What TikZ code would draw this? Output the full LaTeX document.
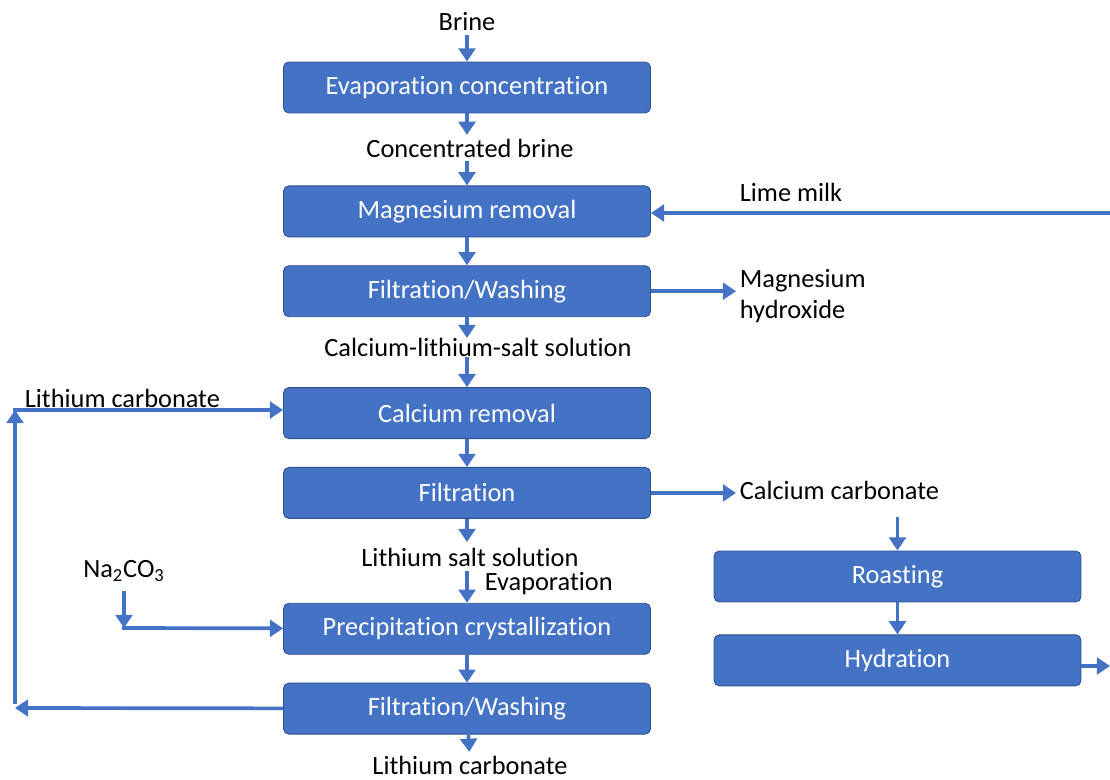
\documentclass[tikz,border=0pt]{standalone}
\usepackage{fontspec}
\setmainfont{Carlito}[Ligatures=NoCommon]
\usepackage{tikz}
\usetikzlibrary{arrows.meta, positioning}
\definecolor{boxblue}{HTML}{4472C4}
\definecolor{boxline}{HTML}{2F528F}

\begin{document}
\begin{tikzpicture}[x=0.02cm, y=-0.02cm, node distance=0.56cm,
        font=\fontsize{15}{18}\selectfont,
        block/.style={draw=boxline, line width=0.5pt, fill=boxblue, text=white, minimum width=7.34cm, minimum height=1.02cm, align=center, rounded corners=3pt},
        label/.style={text=black, inner sep=2pt, align=left},
        arrow/.style={-{Triangle[length=7.5pt, width=9.5pt]}, draw=boxblue, line width=2.1pt}]

        \useasboundingbox (0,0) rectangle (1110,780);

        % Nodes
        \node [block] at (467,87.5) (evap) {Evaporation concentration};
        \node [block, below=1.44cm of evap] (mag) {Magnesium removal};
        \node [block, below=of mag] (filt1) {Filtration/Washing};
        \node [block, below=1.4cm of filt1] (ca) {Calcium removal};
        \node [block, below=of ca] (filt2) {Filtration};
        \node [block, below=1.68cm of filt2] (prec) {Precipitation crystallization};
        \node [block, below=of prec] (filt3) {Filtration/Washing};
        \node [block] at (897.5,576.5) (roast) {Roasting};
        \node [block, below=0.64cm of roast] (hyd) {Hydration};

        % Labels
        \node [label] at (467,22) (brine) {Brine};
        \node [label] at (470,148) (cbrine) {Concentrated brine};
        \node [label, anchor=west] at (736,192) (lime) {Lime milk};
        \node [label, anchor=west] at (736,296) (mghyd) {Magnesium\\hydroxide};
        \node [label] at (478,347) (clsol) {Calcium-lithium-salt solution};
        \node [label, anchor=west] at (21,398) (licarb1) {Lithium carbonate};
        \node [label, anchor=west] at (736,490) (cacarb) {Calcium carbonate};
        \node [label] at (470,557) (lisol) {Lithium salt solution};
        \node [label, anchor=west] at (481,584) (evapl) {Evaporation};
        \node [label] at (124,571) (na) {Na\textsubscript{2}CO\textsubscript{3}};
        \node [label] at (470,765) (licarb2) {Lithium carbonate};

        % Free ends
        \coordinate (s1) at (467,338);
        \coordinate (s2) at (467,357);
        \coordinate (s3) at (467,542);
        \coordinate (s4) at (467,571);
        \coordinate (limein) at (1110,213);
        \coordinate (hydout) at (1110,666);
        \coordinate (nabend) at (124,628);
        \coordinate (loopbot) at (15,708);
        \coordinate (looptop) at (15,410);

        % Arrows
        \draw [arrow] (brine) -- (evap);
        \draw [arrow] (evap.south) -- (evap.south |- cbrine.north);
        \draw [arrow] (evap.south |- cbrine.south) -- (mag);
        \draw [arrow] (limein) -- (mag.east |- limein);
        \draw [arrow] (mag) -- (filt1);
        \draw [arrow] (filt1) -- (filt1.east -| mghyd.west);
        \draw [arrow] (filt1) -- (s1);
        \draw [arrow] (s2) -- (ca);
        \draw [arrow] (ca) -- (filt2);
        \draw [arrow] (filt2) -- (filt2.east -| cacarb.west);
        \draw [arrow, shorten <=8pt] (roast.north |- cacarb.south) -- (roast);
        \draw [arrow] (roast) -- (hyd);
        \draw [arrow] (hyd.east |- hydout) -- (hydout);
        \draw [arrow] (filt2) -- (s3);
        \draw [arrow] (s4) -- (prec);
        \draw [arrow, shorten <=3pt] (na) -- (nabend);
        \draw [arrow, shorten <=-1.05pt] (nabend) -- (prec);
        \draw [arrow] (prec) -- (filt3);
        \draw [arrow] (filt3) -- (licarb2);
        \draw [arrow] (filt3) -- (loopbot);
        \draw [arrow, shorten <=2pt] (loopbot) -- (looptop);
        \draw [arrow, shorten <=-1.05pt] (looptop) -- (ca.west |- looptop);
\end{tikzpicture}
\end{document}
